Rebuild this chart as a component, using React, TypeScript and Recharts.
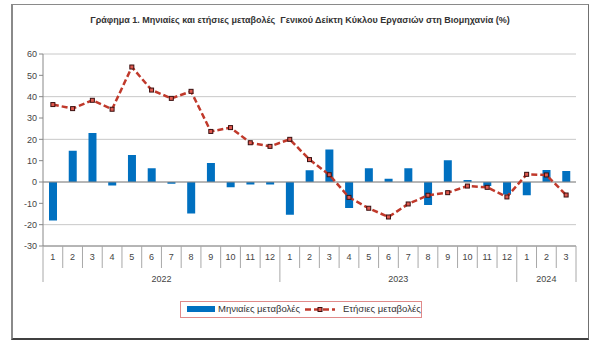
import {
  Bar,
  CartesianGrid,
  ComposedChart,
  Line,
  ReferenceLine,
  XAxis,
  YAxis,
} from "recharts";

const months = [1, 2, 3, 4, 5, 6, 7, 8, 9, 10, 11, 12, 1, 2, 3, 4, 5, 6, 7, 8, 9, 10, 11, 12, 1, 2, 3];
const years = [2022, 2022, 2022, 2022, 2022, 2022, 2022, 2022, 2022, 2022, 2022, 2022, 2023, 2023, 2023, 2023, 2023, 2023, 2023, 2023, 2023, 2023, 2023, 2023, 2024, 2024, 2024];
const monthly = [-18, 14.7, 23, -1.6, 12.7, 6.4, -0.8, -14.8, 8.9, -2.5, -1.2, -1.2, -15.3, 5.5, 15.2, -12.2, 6.4, 1.5, 6.4, -10.8, 10.2, 0.9, -1.9, -5.9, -6.2, 5.6, 5.2];
const yearly = [36.3, 34.4, 38.3, 34.1, 53.9, 43.1, 39.2, 42.5, 23.7, 25.5, 18.4, 16.7, 20, 10.5, 3.4, -7.2, -12.3, -16.4, -10.3, -6.2, -5, -1.9, -2.5, -7, 3.6, 3.3, -6.1];
const yTicks = [-30, -20, -10, 0, 10, 20, 30, 40, 50, 60];

const title =
  "Γράφημα 1. Μηνιαίες και ετήσιες μεταβολές  Γενικού Δείκτη Κύκλου Εργασιών στη Βιομηχανία (%)";

const W = 600;
const H = 345;
const PLOT_LEFT = 43;
const PLOT_RIGHT = 576;
const BAND = (PLOT_RIGHT - PLOT_LEFT) / months.length;
const FONT = "'Liberation Sans', 'DejaVu Sans', sans-serif";
const BLUE = "#0070c0";
const RED = "#c0392b";

const data = months.map((m, i) => ({
  key: `${years[i]}-${m}`,
  month: m,
  year: years[i],
  monthly: monthly[i],
  yearly: yearly[i],
}));

function MonthTick(props: any) {
  const { x, y, payload } = props;
  const i: number = props.index ?? payload.index ?? 0;
  const left = x - BAND / 2;
  const startsYear = months[i] === 1;
  const yr = years[i];
  const first = years.indexOf(yr);
  const last = years.lastIndexOf(yr);
  const center = (first + last) / 2;
  return (
    <g>
      <line x1={left} x2={left} y1={y} y2={y + (startsYear ? 36 : 22)} stroke="#a8a8a8" />
      {i === months.length - 1 && (
        <line x1={left + BAND} x2={left + BAND} y1={y} y2={y + 36} stroke="#a8a8a8" />
      )}
      <text x={x} y={y + 14} textAnchor="middle" fontSize={9} fill="#444" fontFamily={FONT}>
        {months[i]}
      </text>
      {i === Math.floor(center) && (
        <text
          x={x + (center - i) * BAND}
          y={y + 36}
          textAnchor="middle"
          fontSize={9}
          fill="#444"
          fontFamily={FONT}
        >
          {yr}
        </text>
      )}
    </g>
  );
}

function SquareDot(props: any) {
  const { cx, cy } = props;
  if (cx == null || cy == null) return null;
  return <rect x={cx - 2} y={cy - 2} width={4} height={4} fill="#e05a50" stroke="#3a1010" strokeWidth={1} />;
}

export default function App() {
  return (
    <div style={{ position: "absolute", left: 0, top: 0, width: W, height: H, background: "#fff" }}>
      <div
        style={{
          position: "absolute",
          left: 11,
          top: 4,
          width: 575,
          height: 333,
          borderTop: "1.5px solid #8a8a8a",
          borderLeft: "2px solid #8a8a8a",
          borderRight: "1.5px solid #707070",
          borderBottom: "2px solid #404040",
        }}
      />
      <div
        style={{
          position: "absolute",
          left: 0,
          width: W,
          top: 15,
          textAlign: "center",
          fontFamily: FONT,
          fontSize: 9,
          fontWeight: 600,
          color: "#333",
          whiteSpace: "pre",
        }}
      >
        {title}
      </div>
      <div style={{ position: "absolute", left: 0, top: 0 }}>
        <ComposedChart
          width={W}
          height={H}
          data={data}
          margin={{ top: 54, right: W - PLOT_RIGHT, bottom: 59, left: 0 }}
          barCategoryGap={0}
        >
          <CartesianGrid vertical={false} stroke="#c8c8c8" strokeWidth={1} />
          <XAxis
            dataKey="key"
            interval={0}
            tickLine={false}
            tickSize={0}
            tickMargin={0}
            axisLine={{ stroke: "#888" }}
            tick={<MonthTick />}
            height={40}
          />
          <YAxis
            domain={[-30, 60]}
            ticks={yTicks}
            width={PLOT_LEFT}
            allowDataOverflow
            axisLine={{ stroke: "#888" }}
            tickLine={{ stroke: "#888" }}
            tickSize={4}
            tick={{ fontSize: 9, fill: "#444", fontFamily: FONT }}
          />
          <ReferenceLine y={0} stroke="#8a8a8a" />
          <Bar dataKey="monthly" fill={BLUE} barSize={8} isAnimationActive={false} />
          <Line
            dataKey="yearly"
            stroke={RED}
            strokeWidth={2.5}
            strokeDasharray="6 3"
            dot={<SquareDot />}
            activeDot={false}
            isAnimationActive={false}
          />
        </ComposedChart>
      </div>
      <div
        style={{
          position: "absolute",
          left: 180,
          top: 301,
          width: 240,
          height: 15,
          border: "1px solid #e08a8a",
          fontFamily: FONT,
          fontSize: 9.5,
          color: "#333",
        }}
      >
        <div style={{ position: "absolute", left: 6, top: 4, width: 28, height: 6, background: BLUE }} />
        <div style={{ position: "absolute", left: 37, top: 1, whiteSpace: "nowrap" }}>Μηνιαίες μεταβολές</div>
        <svg style={{ position: "absolute", left: 124, top: 2 }} width={30} height={11}>
          <line x1={0} x2={30} y1={5.5} y2={5.5} stroke={RED} strokeWidth={2.5} strokeDasharray="6 3" />
          <rect x={13} y={3.5} width={4} height={4} fill="#e05a50" stroke="#3a1010" strokeWidth={1} />
        </svg>
        <div style={{ position: "absolute", left: 162, top: 1, whiteSpace: "nowrap" }}>Ετήσιες μεταβολές</div>
      </div>
    </div>
  );
}
